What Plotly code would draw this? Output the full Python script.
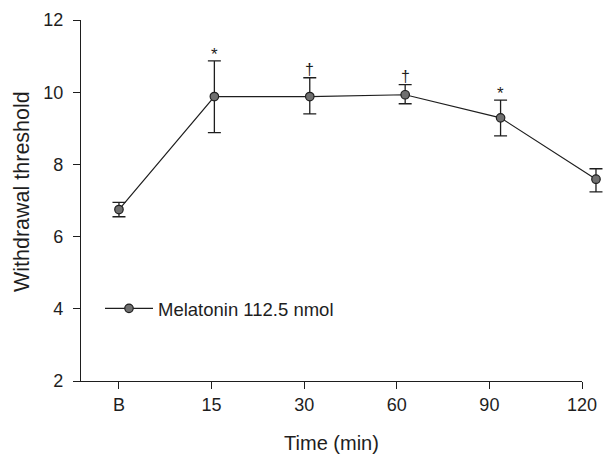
import plotly.graph_objects as go

categories = ["B", "15", "30", "60", "90", "120"]
means = [6.75, 9.88, 9.88, 9.93, 9.29, 7.59]
upper = [6.95, 10.87, 10.40, 10.21, 9.78, 7.88]
lower = [6.55, 8.88, 9.40, 9.68, 8.79, 7.24]
marks = ["", "*", "†", "†", "*", ""]
series_name = "Melatonin 112.5 nmol"
x_title = "Time (min)"
y_title = "Withdrawal threshold"

err_plus = [u - m for u, m in zip(upper, means)]
err_minus = [m - l for m, l in zip(means, lower)]

ink = "#1e1e1e"
fig = go.Figure()
fig.add_trace(go.Scatter(
    x=categories, y=means, mode="lines+markers", name=series_name,
    xaxis="x2", yaxis="y",
    line=dict(color=ink, width=1.2),
    marker=dict(size=8.5, color="#6f6f6f", line=dict(color=ink, width=1.2)),
    error_y=dict(type="data", symmetric=False, array=err_plus, arrayminus=err_minus,
                 color=ink, thickness=1.3, width=6.5),
))
# invisible trace to anchor the tick axis categories
fig.add_trace(go.Scatter(x=categories, y=[None] * len(categories), xaxis="x",
                         showlegend=False, hoverinfo="skip"))

for i, (u, m) in enumerate(zip(upper, marks)):
    if m:
        fig.add_annotation(x=i, y=u, xref="x2", yref="y", text=m, showarrow=False,
                           yanchor="bottom", yshift=-5 if m == "*" else -2,
                           font=dict(size=17 if m == "*" else 16, color=ink))

fam = "Liberation Sans, Arial, sans-serif"
tick_font = dict(family=fam, size=18, color=ink)
W, H = 616, 456
L, R, T, B = 81, 6, 20, 75
plot_w = W - L - R
plot_h = H - T - B
axis_end = 582
dom_end = (axis_end - L) / plot_w

# y-axis title (placed as rotated text, slightly above centre as in the original)
fig.add_annotation(text=y_title, xref="paper", yref="paper", x=0, y=(381 - 192) / plot_h,
                   xanchor="center", yanchor="middle", xshift=-59, textangle=-90,
                   showarrow=False, font=dict(family=fam, size=21.5, color=ink))

fig.update_layout(
    width=W, height=H,
    margin=dict(l=L, r=R, t=T, b=B),
    paper_bgcolor="white", plot_bgcolor="white",
    font=dict(family=fam, size=18, color=ink),
    showlegend=True,
    legend=dict(x=19 / plot_w, y=0.2, xanchor="left", yanchor="middle", itemwidth=48,
                bgcolor="rgba(0,0,0,0)", font=dict(family=fam, size=18.5, color=ink)),
    xaxis=dict(type="category", categoryarray=categories, range=[-0.41, 5],
               domain=[0, dom_end],
               showline=True, linecolor=ink, automargin=False,
               linewidth=1.2, ticks="outside", ticklen=7, tickcolor=ink,
               tickfont=tick_font, showgrid=False, zeroline=False,
               title=dict(text=x_title, font=dict(family=fam, size=20, color=ink),
                          standoff=22)),
    xaxis2=dict(type="category", categoryarray=categories, range=[-0.398, 5.147],
                domain=[0, 1], anchor="y",
                visible=False, showgrid=False, zeroline=False),
    yaxis=dict(range=[2, 12], dtick=2, showline=True, linecolor=ink, automargin=False,
               anchor="x",
               linewidth=1.2, ticks="outside", ticklen=7, tickcolor=ink,
               ticklabelstandoff=6, tickfont=tick_font,
               showgrid=False, zeroline=False),
)

fig.write_html("out.html", config={"displayModeBar": False},
               post_script="document.body.style.margin='0';")
